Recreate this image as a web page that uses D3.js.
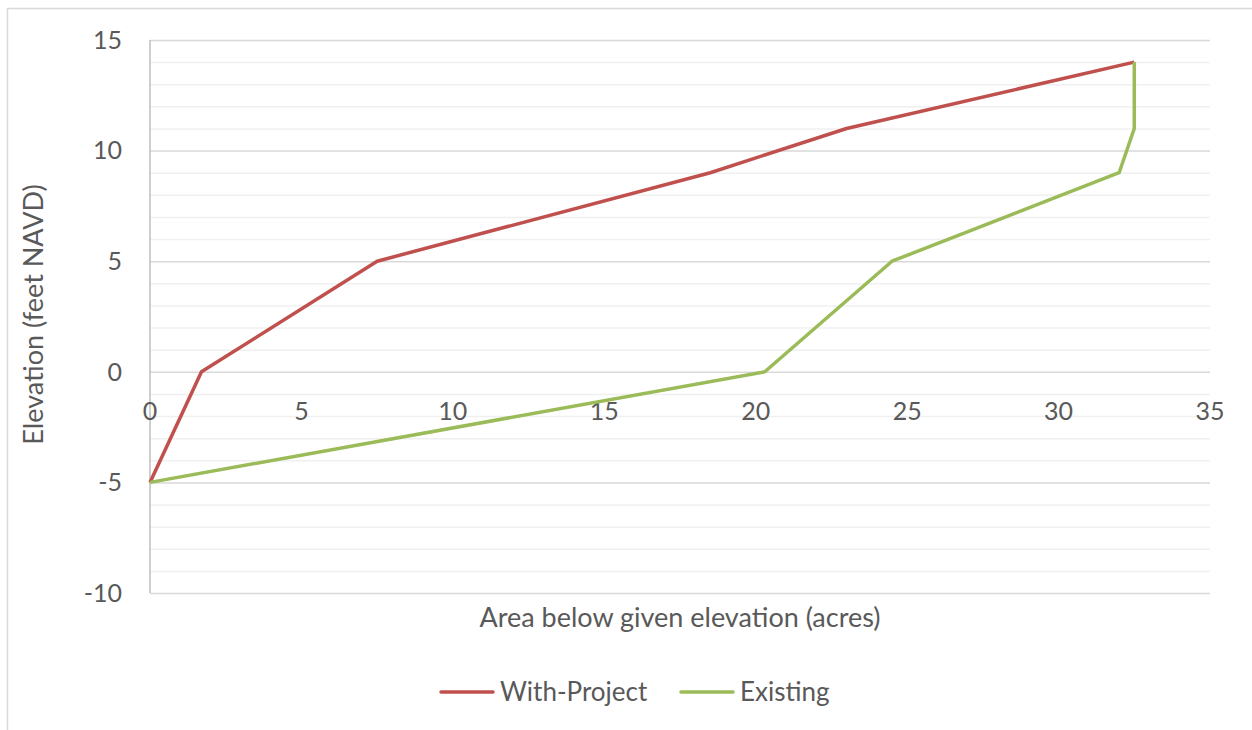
<!DOCTYPE html>
<html>
<head>
<meta charset="utf-8">
<script src="https://cdn.jsdelivr.net/npm/d3@7"></script>
<style>
  html, body { margin: 0; padding: 0; background: #fff; }
  svg text { font-family: Lato, "Open Sans", sans-serif; fill: #595959; }
</style>
</head>
<body>
<svg id="chart" width="1252" height="730"></svg>
<script>
// Area (acres) below each elevation (feet NAVD)
const withProjectArea = [0, 1.7, 7.5, 18.5, 23, 32.5];
const withProjectElev = [-5, 0, 5, 9, 11, 14];
const existingArea = [0, 20.3, 24.5, 32.0, 32.5, 32.5];
const existingElev = [-5, 0, 5, 9, 11, 14];

const xTicks = [0, 5, 10, 15, 20, 25, 30, 35];
const yTicks = [-10, -5, 0, 5, 10, 15];
const yMinorTicks = d3.range(-10, 16, 1);

const seriesNames = ["With-Project", "Existing"];
const seriesColors = ["#c0504d", "#9bbb59"];

const svg = d3.select("#chart");
const W = 1252, H = 730;

// chart frame
svg.append("rect")
  .attr("x", 7.5).attr("y", 8.5)
  .attr("width", W).attr("height", H)
  .attr("fill", "none").attr("stroke", "#d9d9d9").attr("stroke-width", 1.5);

const plot = { left: 150, right: 1210, top: 40, bottom: 593 };
const x = d3.scaleLinear().domain([0, 35]).range([plot.left, plot.right]);
const y = d3.scaleLinear().domain([-10, 15]).range([plot.bottom, plot.top]);

// minor gridlines
svg.append("g")
  .attr("transform", `translate(${plot.left},0)`)
  .call(d3.axisLeft(y).tickValues(yMinorTicks.filter(v => v % 5 !== 0))
    .tickSize(-(plot.right - plot.left)).tickFormat(""))
  .call(g => g.select(".domain").remove())
  .call(g => g.selectAll("line").attr("stroke", "#f0f0f0").attr("stroke-width", 1.5));

// major gridlines
svg.append("g")
  .attr("transform", `translate(${plot.left},0)`)
  .call(d3.axisLeft(y).tickValues(yTicks).tickSize(-(plot.right - plot.left)).tickFormat(""))
  .call(g => g.select(".domain").remove())
  .call(g => g.selectAll("line").attr("stroke", "#d9d9d9").attr("stroke-width", 1.5));

// vertical axis line at x = 0
svg.append("line")
  .attr("x1", x(0)).attr("x2", x(0))
  .attr("y1", y(15)).attr("y2", y(-10))
  .attr("stroke", "#bfbfbf").attr("stroke-width", 1.5);

// y tick labels
svg.append("g")
  .selectAll("text")
  .data(yTicks)
  .join("text")
  .attr("x", 122)
  .attr("y", d => y(d))
  .attr("dy", "0.35em")
  .attr("text-anchor", "end")
  .attr("font-size", 25)
  .text(d => d);

// x tick labels, sitting under the zero line
svg.append("g")
  .selectAll("text")
  .data(xTicks)
  .join("text")
  .attr("x", d => x(d))
  .attr("y", y(0) + 39)
  .attr("dy", "0.35em")
  .attr("text-anchor", "middle")
  .attr("font-size", 25)
  .text(d => d);

// axis titles
svg.append("text")
  .attr("x", 680)
  .attr("y", 618)
  .attr("dy", "0.35em")
  .attr("text-anchor", "middle")
  .attr("font-size", 27)
  .text("Area below given elevation (acres)");

svg.append("text")
  .attr("transform", `translate(34,${(plot.top + plot.bottom) / 2 - 2}) rotate(-90)`)
  .attr("dy", "0.35em")
  .attr("text-anchor", "middle")
  .attr("font-size", 27)
  .text("Elevation (feet NAVD)");

// series lines
const series = [
  { name: seriesNames[0], color: seriesColors[0], xs: withProjectArea, ys: withProjectElev },
  { name: seriesNames[1], color: seriesColors[1], xs: existingArea, ys: existingElev }
];
const line = d3.line().x(d => x(d[0])).y(d => y(d[1]));

svg.append("g")
  .selectAll("path")
  .data(series)
  .join("path")
  .attr("d", s => line(s.xs.map((v, i) => [v, s.ys[i]])))
  .attr("fill", "none")
  .attr("stroke", s => s.color)
  .attr("stroke-width", 3.5)
  .attr("stroke-linejoin", "round");

// legend
const legendItems = [
  { name: seriesNames[0], color: seriesColors[0], x0: 441 },
  { name: seriesNames[1], color: seriesColors[1], x0: 681 }
];
const lg = svg.append("g");
legendItems.forEach(item => {
  lg.append("line")
    .attr("x1", item.x0).attr("x2", item.x0 + 52)
    .attr("y1", 692).attr("y2", 692)
    .attr("stroke", item.color).attr("stroke-width", 3.5)
    .attr("stroke-linecap", "round");
  lg.append("text")
    .attr("x", item.x0 + 59)
    .attr("y", 692)
    .attr("dy", "0.35em")
    .attr("font-size", 26)
    .text(item.name);
});
</script>
</body>
</html>
